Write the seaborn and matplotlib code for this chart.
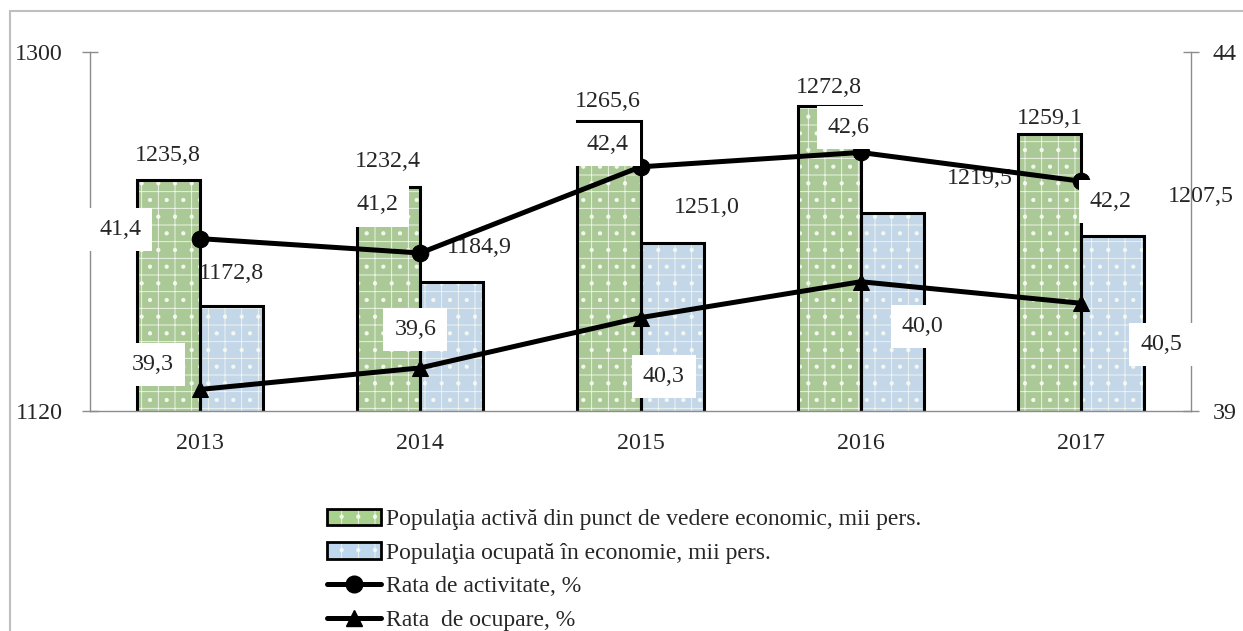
import seaborn as sns
import matplotlib.pyplot as plt
import matplotlib.patches as mpatches
from matplotlib.lines import Line2D
from matplotlib.legend_handler import HandlerTuple
import numpy as np
import pandas as pd

years = ["2013", "2014", "2015", "2016", "2017"]
active = [1235.8, 1232.4, 1265.6, 1272.8, 1259.1]
occupied = [1172.8, 1184.9, 1204.0, 1219.5, 1207.5]
occupied_labels = ["1172,8", "1184,9", "1251,0", "1219,5", "1207,5"]
rate_act = [41.4, 41.2, 42.4, 42.6, 42.2]
rate_occ = [39.3, 39.6, 40.3, 40.8, 40.5]
rate_occ_labels = ["39,3", "39,6", "40,3", "40,0", "40,5"]
names = ["Populaţia activă din punct de vedere economic, mii pers.",
         "Populaţia ocupată în economie, mii pers.",
         "Rata de activitate, %",
         "Rata  de ocupare, %"]

# label offsets in pixels (hand placed like in the original)
act_off = [(-1, 24), (-1, 25), (-1, 19), (0, 19), (0, 15)]
occ_off = [(0, 32), (28, 34), (35, 36), (88, 34), (88, 40)]
ra_off = [(-80, 9), (-43, 48), (-33, 22), (-12, 25), (30, -20)]
ro_off = [(-47, 25), (-5, 38), (23, -59), (62, -45), (80, -41)]

green = "#A9D18E"
blue = "#BDD7EE"
gray = "#8C8C8C"
FS = 17.3

sns.set_style("white")
plt.rcParams["font.family"] = ["Liberation Serif", "DejaVu Serif"]
plt.rcParams["hatch.linewidth"] = 0.6

df = pd.DataFrame({"year": years * 2,
                   "value": active + occupied,
                   "series": [names[0]] * 5 + [names[1]] * 5})

fig = plt.figure(figsize=(12.43, 6.31), dpi=100)
ax = fig.add_axes([0.0724, 0.3487, 0.8858, 0.569])

sns.barplot(data=df, x="year", y="value", hue="series", palette=[green, blue],
            width=0.573, gap=0, edgecolor="#F4F8F0", linewidth=0, hatch="+.",
            legend=False, ax=ax)
sns.barplot(data=df, x="year", y="value", hue="series", palette=["black", "black"],
            width=0.573, gap=0, fill=False, linewidth=2.2, legend=False, ax=ax)

ax.set_ylim(1120, 1300)
ax.set_xlim(-0.5, 4.5)
ax.set_yticks([1120, 1300])
ax.set_xlabel("")
ax.set_ylabel("")
ax.set_xticks(np.arange(-0.5, 5, 1), minor=True)
ax.tick_params(axis="x", which="major", length=0, pad=16, labelsize=FS)
ax.tick_params(axis="x", which="minor", length=10, direction="inout", color=gray, width=1)
ax.tick_params(axis="y", length=11, direction="inout", color=gray, width=1, pad=14, labelsize=FS, left=True)
for s in ["top", "right"]:
    ax.spines[s].set_visible(False)
for s in ["left", "bottom"]:
    ax.spines[s].set_color(gray)
    ax.spines[s].set_linewidth(1)

for bar, v, (dx, dy) in zip(ax.containers[0], active, act_off):
    ax.annotate(f"{v:.1f}".replace(".", ","), (bar.get_x() + bar.get_width() / 2, bar.get_height()),
                xytext=(dx, dy), textcoords="offset pixels", ha="center", va="center", fontsize=FS)
for bar, t, (dx, dy) in zip(ax.containers[1], occupied_labels, occ_off):
    ax.annotate(t, (bar.get_x() + bar.get_width() / 2, bar.get_height()),
                xytext=(dx, dy), textcoords="offset pixels", ha="center", va="center",
                fontsize=FS, annotation_clip=False)

ax2 = ax.twinx()
idx = np.arange(len(years))
sns.lineplot(x=idx, y=rate_act, ax=ax2, color="black", linewidth=3.6, marker="o",
             markersize=12, markeredgecolor="black")
sns.lineplot(x=idx, y=rate_occ, ax=ax2, color="black", linewidth=3.6, marker="^",
             markersize=12, markeredgecolor="black")
ax2.set_ylim(39, 44)
ax2.set_yticks([39, 44])
ax2.tick_params(axis="y", length=11, direction="inout", color=gray, width=1, pad=10, labelsize=FS)
for s in ["top", "left", "bottom"]:
    ax2.spines[s].set_visible(False)
ax2.spines["right"].set_color(gray)
ax2.spines["right"].set_linewidth(1)

box = dict(facecolor="white", edgecolor="none", pad=8)
for i, v, (dx, dy) in zip(idx, rate_act, ra_off):
    ax2.annotate(f"{v:.1f}".replace(".", ","), (i, v), xytext=(dx, dy), textcoords="offset pixels",
                 ha="center", va="center", fontsize=FS, bbox=box)
for i, v, t, (dx, dy) in zip(idx, rate_occ, rate_occ_labels, ro_off):
    ax2.annotate(t, (i, v), xytext=(dx, dy), textcoords="offset pixels",
                 ha="center", va="center", fontsize=FS, bbox=box)

h1 = (mpatches.Patch(facecolor=green, edgecolor="#F4F8F0", hatch="+.", linewidth=0),
      mpatches.Patch(facecolor="none", edgecolor="black", linewidth=2))
h2 = (mpatches.Patch(facecolor=blue, edgecolor="#F4F8F0", hatch="+.", linewidth=0),
      mpatches.Patch(facecolor="none", edgecolor="black", linewidth=2))
h3 = Line2D([], [], color="black", linewidth=3.6, marker="o", markersize=12)
h4 = Line2D([], [], color="black", linewidth=3.6, marker="^", markersize=12)
fig.legend([h1, h2, h3, h4], names, loc="upper left", bbox_to_anchor=(0.263, 0.194),
           frameon=False, fontsize=17, handlelength=2.3, handletextpad=0.2,
           labelspacing=0.51, borderpad=0, borderaxespad=0,
           handler_map={tuple: HandlerTuple(ndivide=1)})

fig.patches.append(mpatches.Rectangle((10 / 1243, -0.1), 1.1, 1 - 11 / 631 + 0.1, transform=fig.transFigure,
                                      fill=False, edgecolor="#BFBFBF", linewidth=1.5))

fig.savefig("out.png", dpi=100)
